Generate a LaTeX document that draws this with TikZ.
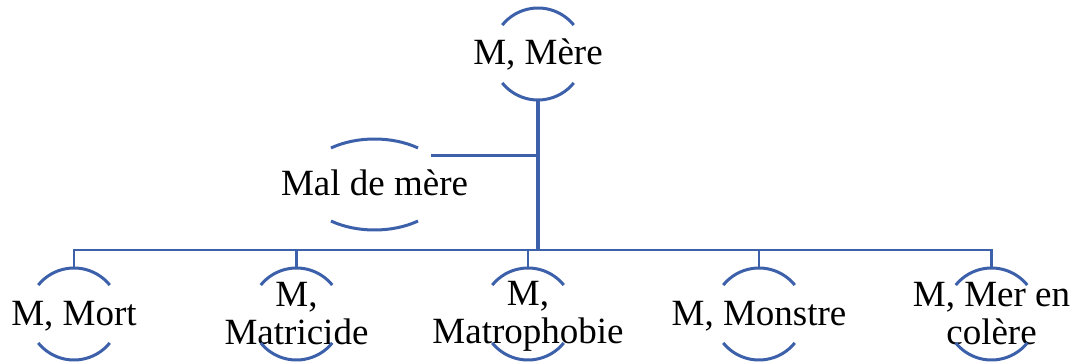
\documentclass[tikz,border=0pt]{standalone}
\usepackage{fontspec}
\setmainfont{Liberation Serif}
\usetikzlibrary{shapes.geometric}
\definecolor{lineblue}{RGB}{60,96,170}
\newcommand\Lst{\rule[-7.5pt]{0pt}{37pt}}
\tikzset{
  conn/.style={draw=lineblue,line width=2.5pt},
  trunk/.style={draw=lineblue,line width=3.5pt},
  arcline/.style={draw=lineblue,line width=3pt},
  circ/.style={circle,draw=none,minimum size=92pt,inner sep=0pt,outer sep=0pt},
  ell/.style={ellipse,draw=none,minimum width=146pt,minimum height=91pt,inner sep=0pt,outer sep=0pt},
  txt/.style={font=\fontsize{37}{38}\selectfont,align=center,inner sep=0pt,text=black}
}
\begin{document}
\begin{tikzpicture}[x=1pt,y=1pt]
\useasboundingbox (0,0) rectangle (1075,362);
% shapes
\node[circ,label={[txt]center:{\Lst M, Mère}}] (mere) at (538,308) {};
\node[ell,label={[txt]center:{\Lst Mal de mère}}] (mal) at (374.5,177.5) {};
\node[circ,label={[txt]center:{\Lst M, Mort}}] (mort) at (74,48) {};
\node[circ,label={[txt]center:{\Lst M,\\\Lst Matricide}}] (matri) at (296.5,48) {};
\node[circ,label={[txt]center:{\Lst M,\\\Lst Matrophobie}}] (matro) at (528,48) {};
\node[circ,label={[txt]center:{\Lst M, Monstre}}] (monstre) at (759,48) {};
\node[circ,label={[txt]center:{\Lst M, Mer en\\\Lst colère}}] (mer) at (991.5,48) {};
% arcs of circles
\foreach \n in {mere,mort,matri,matro,monstre,mer}{
  \draw[arcline] ([shift={(39:46pt)}]\n.center) arc[start angle=39,end angle=141,radius=46pt];
  \draw[arcline] ([shift={(219:46pt)}]\n.center) arc[start angle=219,end angle=321,radius=46pt];
}
% arcs of ellipse
\draw[arcline] ([shift={(53.4:73pt and 45.5pt)}]mal.center) arc[start angle=53.4,end angle=126.6,x radius=73pt,y radius=45.5pt];
\draw[arcline] ([shift={(233.4:73pt and 45.5pt)}]mal.center) arc[start angle=233.4,end angle=306.6,x radius=73pt,y radius=45.5pt];
% connectors
\coordinate (bar) at (538,112);
\draw[trunk] (mere.south) -- (mere.south |- bar);
\draw[conn] (mal.27.9) -- (mal.27.9 -| mere.south);
\draw[conn] (mort.north) -- (mort.north |- bar) -- (mer.north |- bar) -- (mer.north);
\foreach \n in {matri,matro,monstre}{
  \draw[conn] (\n.north) -- (\n.north |- bar);
}
\end{tikzpicture}
\end{document}
